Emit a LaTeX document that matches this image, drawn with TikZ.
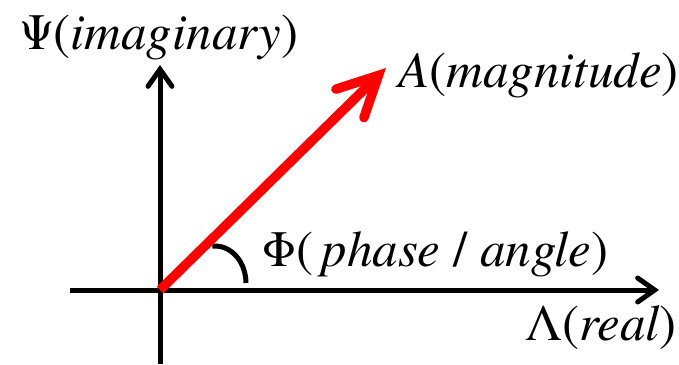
\documentclass[tikz,border=0pt]{standalone}
\usepackage{fontspec}
\setmainfont{texgyretermes}[Extension=.otf,UprightFont=*-regular,ItalicFont=*-italic,BoldFont=*-bold,BoldItalicFont=*-bolditalic]
\usetikzlibrary{arrows.meta}
\begin{document}
\begin{tikzpicture}[x=1pt,y=1pt,line join=round,font=\fontsize{51}{61}\selectfont,
	axis/.style={line width=5pt,-{Straight Barb[length=17pt,width=24pt,line cap=round]}},
	vec/.style={red,line width=9.5pt,-{Straight Barb[length=40pt,width=40pt,line cap=round]}},
	lbl/.style={inner sep=0pt,anchor=base west}]
	\useasboundingbox (0,0) rectangle (679,364);
	\coordinate (O) at (160,74);
	\coordinate (xs) at (70,74); \coordinate (xe) at (659,74);
	\coordinate (ys) at (160,0); \coordinate (ye) at (160,299);
	\coordinate (tip) at (386,296);
	\draw[axis] (xs)--(xe);
	\draw[axis] (ys)--(ye);
	% angle mark
	\draw[line width=5pt] (215,81) ++(95:31pt and 37pt) arc[start angle=95,end angle=0,x radius=31pt,y radius=37pt];
	\draw[vec] (O)--(tip);
	\node[lbl] (imag) at (20,314) {Ψ(\textit{imaginary})};
	\node[lbl] (mag) at (398,276) {\textit{A}(\textit{magnitude})};
	\node[lbl] (phase) at (262,97) {Φ(\,\textit{phase} / \textit{angle})};
	\node[lbl,anchor=base east] (real) at (677,24) {Λ(\textit{real})};
\end{tikzpicture}
\end{document}
